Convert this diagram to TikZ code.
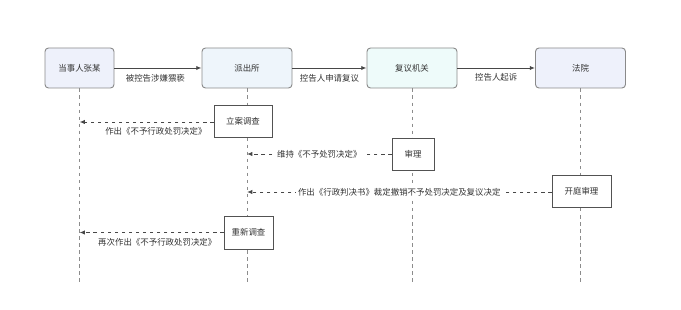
\documentclass[tikz,border=0pt]{standalone}
\usepackage{fontspec}
\usepackage{xcolor}
\usetikzlibrary{arrows.meta,positioning}
\newfontfamily\cjk{Noto Sans CJK SC}
\definecolor{ink}{HTML}{333333}
\definecolor{edge}{HTML}{8A8A8A}
\definecolor{lifegray}{HTML}{8C8C8C}
\definecolor{lavender}{HTML}{EEF1FB}
\definecolor{skyfill}{HTML}{EEF5FB}
\definecolor{mintfill}{HTML}{EEFBFA}
\tikzset{
  actorbox/.style={
    rectangle, rounded corners=3pt, draw=edge, fill=#1, thick,
    minimum width=2.7cm, minimum height=1.2cm,
    font=\cjk\fontsize{7.2}{8}\selectfont, text=ink, align=center,
    inner sep=2pt
  },
  actorbox/.default=lavender,
  actbox/.style={
    rectangle, draw=ink!85, fill=white, thick,
    minimum height=0.96cm,
    font=\cjk\fontsize{7.2}{8}\selectfont, text=ink, align=center,
    inner sep=2pt
  },
  lifeline/.style={dashed, thick, color=lifegray},
  callarrow/.style={-{Latex[length=4.5pt,width=3.6pt]}, thick, color=ink!90},
  replyarrow/.style={-{Latex[length=4.5pt,width=3.6pt]}, dashed, thick, color=ink!90},
  msglabel/.style={font=\cjk\fontsize{7.2}{8}\selectfont, text=ink, inner sep=2pt},
}
\begin{document}
\begin{tikzpicture}
  \useasboundingbox (0,0) rectangle (20.43,9.3);
  % participants
  \node[actorbox=lavender, minimum width=2.07cm] (dsr) at (2.385,7.26) {当事人张某};
  \node[actorbox=skyfill] (pcs) at (7.41,7.26) {派出所};
  \node[actorbox=mintfill] (fyjg) at (12.36,7.26) {复议机关};
  \node[actorbox=lavender] (fy) at (17.415,7.26) {法院};
  % lifelines
  \foreach \p in {dsr,pcs,fyjg,fy}{
    \coordinate (\p-end) at (\p.south |- 0,0.81);
    \draw[lifeline] (\p.south) -- (\p-end);
  }
  % activation boxes
  \node[actbox, minimum width=1.74cm] (lasc) at (7.29,5.67) {立案调查};
  \node[actbox, minimum width=1.26cm] (sl) at (12.39,4.68) {审理};
  \node[actbox, minimum width=1.77cm] (ktsl) at (17.445,3.57) {开庭审理};
  \node[actbox, minimum width=1.47cm, minimum height=0.99cm] (cxdc) at (7.455,2.325) {重新调查};
  % messages
  \draw[callarrow] (dsr) -- (pcs) node[msglabel, below=3pt, pos=0.47] {被控告涉嫌猥亵};
  \draw[callarrow] (pcs) -- (fyjg) node[msglabel, below=3pt, midway] {控告人申请复议};
  \draw[callarrow] (fyjg) -- (fy) node[msglabel, below=2.5pt, midway] {控告人起诉};
  \draw[replyarrow] ([yshift=-0.03cm]lasc.west) -- ([yshift=-0.03cm]lasc.west -| dsr)
    node[msglabel, below=2.5pt, pos=0.43] {作出《不予行政处罚决定》};
  \draw[replyarrow] (sl.west) -- (sl.west -| pcs)
    node[msglabel, fill=white, midway] {维持《不予处罚决定》};
  \draw[replyarrow] ([yshift=-0.03cm]ktsl.west) -- ([yshift=-0.03cm]ktsl.west -| pcs)
    node[msglabel, fill=white, midway] {作出《行政判决书》裁定撤销不予处罚决定及复议决定};
  \draw[replyarrow] (cxdc.west) -- (cxdc.west -| dsr)
    node[msglabel, below=2.5pt, pos=0.46] {再次作出《不予行政处罚决定》};
\end{tikzpicture}
\end{document}
